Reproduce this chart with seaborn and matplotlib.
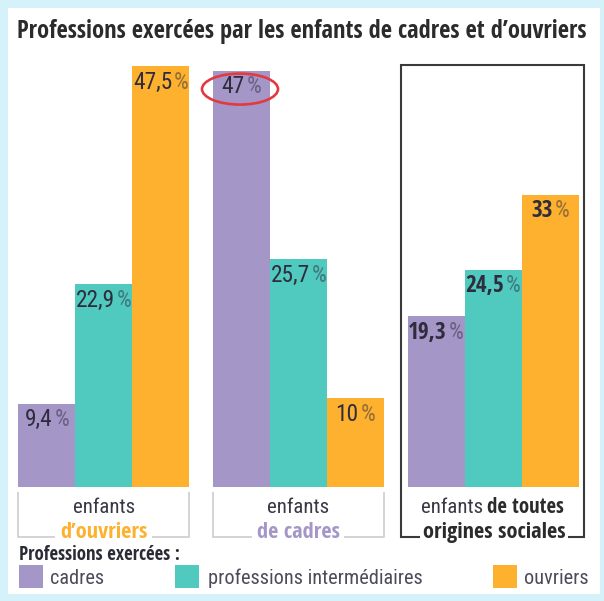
import numpy as np
import pandas as pd
import matplotlib
matplotlib.use("Agg")
import matplotlib.pyplot as plt
import seaborn as sns
from matplotlib import font_manager as fm
from matplotlib.patches import Rectangle, Ellipse
from matplotlib.lines import Line2D
from matplotlib.textpath import TextPath

# ---------------- data ----------------
groupes = ["enfants d’ouvriers", "enfants de cadres", "enfants de toutes origines sociales"]
professions = ["cadres", "professions intermédiaires", "ouvriers"]
val_cadres = [9.4, 47.0, 19.3]
val_intermediaires = [22.9, 25.7, 24.5]
val_ouvriers = [47.5, 10.0, 33.0]
couleurs = ["#a596c8", "#50c9be", "#fdb12e"]
titre = "Professions exercées par les enfants de cadres et d’ouvriers"
legende_titre = "Professions exercées :"

# ---------------- fonts: choose the installed face whose proportions match ----------------
FAMS = ["Liberation Sans", "Noto Sans", "Open Sans", "Roboto", "DejaVu Sans", "Lato", "Inter"]
SUFFIX_OK = {"", "condensed", "semicondensed", "extracondensed", "narrow"}
BAD_REG = ("light", "thin", "medium", "semibold", "black", "extrabold", "bold",
           "italic", "oblique", "heavy", "demi")
BAD_BOLD = ("semibold", "extrabold", "black", "italic", "oblique", "heavy", "light",
            "thin", "medium", "demi")


def _weight(f):
    w = f.weight
    if isinstance(w, str):
        w = fm.weight_dict.get(w, 400)
    return w


def _family_ok(f):
    for fam in FAMS:
        if f.name.startswith(fam):
            rest = f.name[len(fam):].replace(" ", "").replace("-", "").lower()
            if rest in SUFFIX_OK:
                return True
    return False


def _style_ok(f, bold):
    base = f.fname.split("/")[-1].lower().replace("-", "").replace("_", "")
    for w in ("condensed", "narrow"):
        base = base.replace(w, "")
    if bold:
        return "bold" in base and not any(b in base for b in BAD_BOLD) and _weight(f) >= 600
    return not any(b in base for b in BAD_REG) and 350 <= _weight(f) <= 450


def ink(s, fp):
    e = TextPath((0, 0), s, size=100, prop=fp).get_extents()
    return e.width, e.height


def pick_font(bold, tests):
    best, best_score = None, 1e9
    seen = set()
    for f in fm.fontManager.ttflist:
        if f.fname in seen or f.style != "normal" or f.fname.lower().endswith((".ttc", ".otc")):
            continue
        seen.add(f.fname)
        if not (_family_ok(f) and _style_ok(f, bold)):
            continue
        fp = fm.FontProperties(fname=f.fname)
        try:
            score = 0.0
            for s, ref, target in tests:
                w, _ = ink(s, fp)
                _, h = ink(ref, fp)
                score += np.log((w / h) / target) ** 2
        except Exception:
            continue
        if score < best_score:
            best, best_score = fp, score
    if best is None:
        best = fm.FontProperties(family="DejaVu Sans", weight="bold" if bold else "normal")
    return best


FR = pick_font(False, [("47,5 %", "47", 3.4), ("9,4 %", "94", 3.0)])
FB = pick_font(True, [(titre, "P", 33.0)])

DARK = "#2f2c3d"
W, H = 604, 601

sns.set_theme(style="white")
fig = plt.figure(figsize=(W / 100, H / 100), dpi=100)
fig.patch.set_facecolor("#d5f1fa")
fig.add_artist(Rectangle((8 / W, 1 - 594 / H), (600 - 8) / W, (594 - 8) / H,
                         transform=fig.transFigure, facecolor="white", edgecolor="none", zorder=-5))
renderer = fig.canvas.get_renderer()

ax = fig.add_axes([0, 0, 1, 1])
ax.patch.set_alpha(0)

df = pd.DataFrame({
    "groupe": np.repeat(groupes, 3),
    "profession": professions * 3,
    "valeur": [v for trio in zip(val_cadres, val_intermediaires, val_ouvriers) for v in trio],
})
sns.barplot(data=df, x="groupe", y="valeur", hue="profession", order=groupes,
            hue_order=professions, palette=dict(zip(professions, couleurs)),
            width=0.8787, gap=0, saturation=1, errorbar=None, legend=False,
            linewidth=0, edgecolor="none", ax=ax)

# map data to reference pixels: x centre of group 0 at 103.9 px, 194.6 px per group
x0c, xu = 103.9, 194.6
y0p, yu = 487.0, 8.86
ax.set_xlim(-x0c / xu, (W - x0c) / xu)
ax.set_ylim((y0p - H) / yu, y0p / yu)
ax.axis("off")


def A(px, py):
    return (px / W, 1 - py / H)


def tw(s, fp, size):
    t = fig.text(0, 0, s, fontproperties=fp, size=size)
    w = t.get_window_extent(renderer).width
    t.remove()
    return w


def fit(s, fp, target):
    return 20.0 * target / tw(s, fp, 20.0)


def space(fp, size):
    return tw("a a", fp, size) - tw("aa", fp, size)


def runs(px, py, parts, size, gap, ha="center"):
    ws = [tw(t, fp, size) for t, fp, c, a in parts]
    total = sum(ws) + gap * (len(parts) - 1)
    x = px - total / 2 if ha == "center" else px
    left = x
    for (t, fp, c, a), w in zip(parts, ws):
        ax.text(*A(x, py), t, transform=ax.transAxes, fontproperties=fp, size=size,
                color=c, alpha=a, ha="left", va="baseline", zorder=5)
        x += w + gap
    return left, total


def line(pts, color, lw):
    xs = [p[0] / W for p in pts]
    ys = [1 - p[1] / H for p in pts]
    ax.add_line(Line2D(xs, ys, transform=ax.transAxes, color=color, lw=lw,
                       solid_capstyle="butt", solid_joinstyle="miter", zorder=4))


def to_px(x, y):
    dx, dy = ax.transData.transform((x, y))
    return dx, H - dy


# ---------------- title ----------------
ts = fit(titre, FB, 570)
ax.text(*A(302, 38), titre, transform=ax.transAxes, fontproperties=FB, size=ts,
        color="#2b2b2b", ha="center", va="baseline")

# ---------------- value labels ----------------
bars = sorted([p for p in ax.patches if p.get_height() > 0], key=lambda p: p.get_x())
vals = [val_cadres, val_intermediaires, val_ouvriers]
GAPF = 0.4
w20 = tw("47,5", FR, 20) + tw("%", FR, 20) + GAPF * space(FR, 20)
vs = 20.0 * 56.0 / w20
pgap = space(FR, vs) * GAPF
group_px = []
for gi in range(len(groupes)):
    gb = bars[gi * 3:(gi + 1) * 3]
    l, _ = to_px(gb[0].get_x(), 0)
    r, _ = to_px(gb[-1].get_x() + gb[-1].get_width(), 0)
    group_px.append((l, r))
    for hi, b in enumerate(gb):
        v = vals[hi][gi]
        cx, top = to_px(b.get_x() + b.get_width() / 2, b.get_height())
        num = f"{v:g}".replace(".", ",")
        runs(cx, top + 22.5, [(num, FB if gi == 2 else FR, DARK, 1.0),
                              ("%", FR, DARK, 0.5)], vs, pgap)
        if gi == 1 and hi == 0:
            ax.add_patch(Ellipse(A(cx - 1.5, top + 18.5), 76 / W, 31 / H, transform=ax.transAxes,
                                 facecolor="none", edgecolor="#e23a40", lw=1.9, zorder=6))

# ---------------- category labels ----------------
rs = fit("enfants", FR, 62)
bs = fit("origines sociales", FB, 143)
sp = space(FR, rs)
line2 = [("d’ouvriers", couleurs[2]), ("de cadres", couleurs[0])]
for gi in range(2):
    l, r = group_px[gi]
    c = (l + r) / 2
    runs(c, 513, [("enfants", FR, "#3a3845", 1.0)], rs, 0)
    tl, tt = runs(c, 538, [(line2[gi][0], FB, line2[gi][1], 1.0)], bs, 0)
    gcol, glw = "#c9c9cc", 1.1
    line([(l, 492), (l, 537), (tl - 5, 537)], gcol, glw)
    line([(tl + tt + 4, 537), (r, 537), (r, 492)], gcol, glw)

l, r = group_px[2]
c = (l + r) / 2
runs(c - 1, 513, [("enfants", FR, "#3a3845", 1.0), ("de toutes", FB, "#2b2b2b", 1.0)], rs, sp * 0.75)
tl, tt = runs(c + 1, 538, [("origines sociales", FB, "#2b2b2b", 1.0)], bs, 0)
bl, br = l - 7, r + 5
line([(tl - 3, 537), (bl, 537), (bl, 65), (br, 65), (br, 537), (tl + tt + 3, 537)], "#3a3a3a", 1.5)

# ---------------- legend ----------------
ls_b = fit(legende_titre, FB, 162)
ax.text(*A(19, 560), legende_titre, transform=ax.transAxes, fontproperties=FB, size=ls_b,
        color="#2b2b35", ha="left", va="baseline")
ls = fit("professions intermédiaires", FR, 214)
for (sx, tx), lab, col in zip([(19, 50), (175, 208), (493, 524)], professions, couleurs):
    ax.add_patch(Rectangle(A(sx, 588), 24 / W, 23 / H, transform=ax.transAxes,
                           facecolor=col, edgecolor="none", zorder=4))
    ax.text(*A(tx, 584), lab, transform=ax.transAxes, fontproperties=FR, size=ls,
            color="#4d4b5a", ha="left", va="baseline")

fig.savefig("out.png", dpi=100, facecolor=fig.get_facecolor())
